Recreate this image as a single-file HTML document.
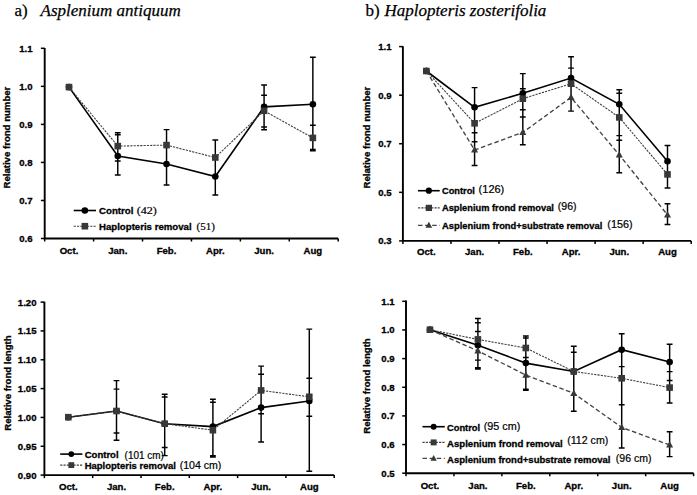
<!DOCTYPE html><html><head><meta charset="utf-8"><style>html,body{margin:0;padding:0;background:#fff;width:697px;height:495px;overflow:hidden}svg{display:block}.t{font-family:"Liberation Sans", sans-serif;font-weight:bold;font-size:9.6px;fill:#000;stroke:#000;stroke-width:0.3}.r{font-family:"Liberation Sans", sans-serif;font-size:10px;fill:#000;stroke:#000;stroke-width:0.2}.sr{font-family:"Liberation Serif",serif;font-size:10.3px;fill:#000;stroke:#000;stroke-width:0.2}.ti{font-family:"Liberation Serif",serif;font-size:17px;fill:#000;stroke:#000;stroke-width:0.25}</style></head><body>
<svg width="697" height="495" viewBox="0 0 697 495">
<text x="14.5" y="15.5" class="ti">a)</text><text x="40.6" y="15.5" class="ti" font-style="italic">Asplenium antiquum</text>
<text x="365.5" y="15.5" class="ti">b)</text><text x="384.4" y="15.5" class="ti" font-style="italic">Haplopteris zosterifolia</text>
<path d="M44.7,48 V238.5 H338.2" fill="none" stroke="#000" stroke-width="1.9"/>
<line x1="40.900000000000006" y1="48.30" x2="44.7" y2="48.30" stroke="#000" stroke-width="1.5"/>
<text x="32.6" y="51.70" text-anchor="end" class="t">1.1</text>
<line x1="40.900000000000006" y1="86.34" x2="44.7" y2="86.34" stroke="#000" stroke-width="1.5"/>
<text x="32.6" y="89.74" text-anchor="end" class="t">1.0</text>
<line x1="40.900000000000006" y1="124.38" x2="44.7" y2="124.38" stroke="#000" stroke-width="1.5"/>
<text x="32.6" y="127.78" text-anchor="end" class="t">0.9</text>
<line x1="40.900000000000006" y1="162.42" x2="44.7" y2="162.42" stroke="#000" stroke-width="1.5"/>
<text x="32.6" y="165.82" text-anchor="end" class="t">0.8</text>
<line x1="40.900000000000006" y1="200.46" x2="44.7" y2="200.46" stroke="#000" stroke-width="1.5"/>
<text x="32.6" y="203.86" text-anchor="end" class="t">0.7</text>
<line x1="40.900000000000006" y1="238.50" x2="44.7" y2="238.50" stroke="#000" stroke-width="1.5"/>
<text x="32.6" y="241.90" text-anchor="end" class="t">0.6</text>
<line x1="44.70" y1="238.5" x2="44.70" y2="241.5" stroke="#000" stroke-width="1.5"/>
<line x1="93.62" y1="238.5" x2="93.62" y2="241.5" stroke="#000" stroke-width="1.5"/>
<line x1="142.53" y1="238.5" x2="142.53" y2="241.5" stroke="#000" stroke-width="1.5"/>
<line x1="191.45" y1="238.5" x2="191.45" y2="241.5" stroke="#000" stroke-width="1.5"/>
<line x1="240.37" y1="238.5" x2="240.37" y2="241.5" stroke="#000" stroke-width="1.5"/>
<line x1="289.28" y1="238.5" x2="289.28" y2="241.5" stroke="#000" stroke-width="1.5"/>
<line x1="338.20" y1="238.5" x2="338.20" y2="241.5" stroke="#000" stroke-width="1.5"/>
<text x="69.00" y="253.8" text-anchor="middle" class="t">Oct.</text>
<text x="117.77" y="253.8" text-anchor="middle" class="t">Jan.</text>
<text x="166.54" y="253.8" text-anchor="middle" class="t">Feb.</text>
<text x="215.31" y="253.8" text-anchor="middle" class="t">Apr.</text>
<text x="264.08" y="253.8" text-anchor="middle" class="t">Jun.</text>
<text x="312.85" y="253.8" text-anchor="middle" class="t">Aug</text>
<text transform="translate(10.2,137.6) rotate(-90)" text-anchor="middle" class="t">Relative frond number</text>
<polyline points="69.00,87.10 117.77,156.00 166.54,164.00 215.31,176.50 264.08,106.90 312.85,104.30" fill="none" stroke="#000" stroke-width="1.6" />
<polyline points="69.00,87.10 117.77,146.10 166.54,145.10 215.31,157.50 264.08,110.80 312.85,137.90" fill="none" stroke="#404040" stroke-width="1.1" stroke-dasharray="2.2,1.1"/>
<path d="M117.77,132.7 V175 M114.87,132.7 h5.8 M114.87,134.8 h5.8 M114.87,160.9 h5.8 M114.87,175 h5.8" stroke="#000" stroke-width="1.45" fill="none"/>
<path d="M166.54,129.6 V184.9 M163.64,129.6 h5.8 M163.64,184.9 h5.8" stroke="#000" stroke-width="1.45" fill="none"/>
<path d="M215.31,139.9 V194.9 M212.41,139.9 h5.8 M212.41,194.9 h5.8" stroke="#000" stroke-width="1.45" fill="none"/>
<path d="M264.08,84.9 V129.8 M261.18,84.9 h5.8 M261.18,95.2 h5.8 M261.18,126.9 h5.8 M261.18,129.8 h5.8" stroke="#000" stroke-width="1.45" fill="none"/>
<path d="M312.85,57.3 V150.8 M309.95,57.3 h5.8 M309.95,125.3 h5.8 M309.95,149.4 h5.8 M309.95,150.8 h5.8" stroke="#000" stroke-width="1.45" fill="none"/>
<circle cx="69.00" cy="87.10" r="3.30" fill="#000"/>
<circle cx="117.77" cy="156.00" r="3.30" fill="#000"/>
<circle cx="166.54" cy="164.00" r="3.30" fill="#000"/>
<circle cx="215.31" cy="176.50" r="3.30" fill="#000"/>
<circle cx="264.08" cy="106.90" r="3.30" fill="#000"/>
<circle cx="312.85" cy="104.30" r="3.30" fill="#000"/>
<rect x="65.70" y="83.80" width="6.60" height="6.60" fill="#383838"/>
<rect x="114.47" y="142.80" width="6.60" height="6.60" fill="#383838"/>
<rect x="163.24" y="141.80" width="6.60" height="6.60" fill="#383838"/>
<rect x="212.01" y="154.20" width="6.60" height="6.60" fill="#383838"/>
<rect x="260.78" y="107.50" width="6.60" height="6.60" fill="#383838"/>
<rect x="309.55" y="134.60" width="6.60" height="6.60" fill="#383838"/>
<line x1="73.7" y1="210.5" x2="96" y2="210.5" stroke="#000" stroke-width="1.6" />
<circle cx="84.85" cy="210.50" r="3.30" fill="#000"/>
<text x="99" y="213.90" class="t" textLength="34.5" lengthAdjust="spacingAndGlyphs">Control</text>
<text x="136.7" y="213.7" class="sr" textLength="20.1" lengthAdjust="spacingAndGlyphs">(42)</text>
<line x1="73.7" y1="226.2" x2="96" y2="226.2" stroke="#404040" stroke-width="1.1" stroke-dasharray="2.2,1.1"/>
<rect x="81.55" y="222.90" width="6.60" height="6.60" fill="#383838"/>
<text x="99" y="229.60" class="t" textLength="92.6" lengthAdjust="spacingAndGlyphs">Haplopteris removal</text>
<text x="196.6" y="230.1" class="sr" textLength="18.4" lengthAdjust="spacingAndGlyphs">(51)</text>
<path d="M402.9,46.2 V240.9 H691.2" fill="none" stroke="#000" stroke-width="1.9"/>
<line x1="399.09999999999997" y1="46.60" x2="402.9" y2="46.60" stroke="#000" stroke-width="1.5"/>
<text x="391.6" y="50.00" text-anchor="end" class="t">1.1</text>
<line x1="399.09999999999997" y1="95.18" x2="402.9" y2="95.18" stroke="#000" stroke-width="1.5"/>
<text x="391.6" y="98.58" text-anchor="end" class="t">0.9</text>
<line x1="399.09999999999997" y1="143.75" x2="402.9" y2="143.75" stroke="#000" stroke-width="1.5"/>
<text x="391.6" y="147.15" text-anchor="end" class="t">0.7</text>
<line x1="399.09999999999997" y1="192.33" x2="402.9" y2="192.33" stroke="#000" stroke-width="1.5"/>
<text x="391.6" y="195.73" text-anchor="end" class="t">0.5</text>
<line x1="399.09999999999997" y1="240.90" x2="402.9" y2="240.90" stroke="#000" stroke-width="1.5"/>
<text x="391.6" y="244.30" text-anchor="end" class="t">0.3</text>
<line x1="402.90" y1="240.9" x2="402.90" y2="243.9" stroke="#000" stroke-width="1.5"/>
<line x1="450.95" y1="240.9" x2="450.95" y2="243.9" stroke="#000" stroke-width="1.5"/>
<line x1="499.00" y1="240.9" x2="499.00" y2="243.9" stroke="#000" stroke-width="1.5"/>
<line x1="547.05" y1="240.9" x2="547.05" y2="243.9" stroke="#000" stroke-width="1.5"/>
<line x1="595.10" y1="240.9" x2="595.10" y2="243.9" stroke="#000" stroke-width="1.5"/>
<line x1="643.15" y1="240.9" x2="643.15" y2="243.9" stroke="#000" stroke-width="1.5"/>
<line x1="691.20" y1="240.9" x2="691.20" y2="243.9" stroke="#000" stroke-width="1.5"/>
<text x="426.35" y="255.4" text-anchor="middle" class="t">Oct.</text>
<text x="474.58" y="255.4" text-anchor="middle" class="t">Jan.</text>
<text x="522.81" y="255.4" text-anchor="middle" class="t">Feb.</text>
<text x="571.04" y="255.4" text-anchor="middle" class="t">Apr.</text>
<text x="619.27" y="255.4" text-anchor="middle" class="t">Jun.</text>
<text x="667.50" y="255.4" text-anchor="middle" class="t">Aug</text>
<text transform="translate(370,137.6) rotate(-90)" text-anchor="middle" class="t">Relative frond number</text>
<polyline points="426.35,71.00 474.58,107.30 522.81,93.30 571.04,78.10 619.27,104.30 667.50,161.30" fill="none" stroke="#000" stroke-width="1.6" />
<polyline points="426.35,71.00 474.58,123.30 522.81,98.70 571.04,83.70 619.27,117.40 667.50,174.40" fill="none" stroke="#404040" stroke-width="1.1" stroke-dasharray="2.2,1.1"/>
<polyline points="426.35,71.00 474.58,150.00 522.81,132.40 571.04,97.40 619.27,154.90 667.50,214.90" fill="none" stroke="#444" stroke-width="1.35" stroke-dasharray="4.5,2.6"/>
<path d="M474.58,87.6 V165.5 M471.68,87.6 h5.8 M471.68,132.7 h5.8 M471.68,141.8 h5.8 M471.68,165.5 h5.8" stroke="#000" stroke-width="1.45" fill="none"/>
<path d="M522.81,73.6 V144.7 M519.91,73.6 h5.8 M519.91,88.7 h5.8 M519.91,109.7 h5.8 M519.91,117 h5.8 M519.91,144.7 h5.8" stroke="#000" stroke-width="1.45" fill="none"/>
<path d="M571.04,56.8 V111.1 M568.14,56.8 h5.8 M568.14,68.1 h5.8 M568.14,111.1 h5.8" stroke="#000" stroke-width="1.45" fill="none"/>
<path d="M619.27,89.7 V172.7 M616.37,89.7 h5.8 M616.37,93.2 h5.8 M616.37,135.6 h5.8 M616.37,140.3 h5.8 M616.37,172.7 h5.8" stroke="#000" stroke-width="1.45" fill="none"/>
<path d="M667.50,145.5 V188 M664.60,145.5 h5.8 M664.60,188 h5.8" stroke="#000" stroke-width="1.45" fill="none"/>
<path d="M667.50,203.8 V224.4 M664.60,203.8 h5.8 M664.60,224.4 h5.8" stroke="#000" stroke-width="1.45" fill="none"/>
<circle cx="426.35" cy="71.00" r="3.30" fill="#000"/>
<circle cx="474.58" cy="107.30" r="3.30" fill="#000"/>
<circle cx="522.81" cy="93.30" r="3.30" fill="#000"/>
<circle cx="571.04" cy="78.10" r="3.30" fill="#000"/>
<circle cx="619.27" cy="104.30" r="3.30" fill="#000"/>
<circle cx="667.50" cy="161.30" r="3.30" fill="#000"/>
<rect x="423.05" y="67.70" width="6.60" height="6.60" fill="#383838"/>
<rect x="471.28" y="120.00" width="6.60" height="6.60" fill="#383838"/>
<rect x="519.51" y="95.40" width="6.60" height="6.60" fill="#383838"/>
<rect x="567.74" y="80.40" width="6.60" height="6.60" fill="#383838"/>
<rect x="615.97" y="114.10" width="6.60" height="6.60" fill="#383838"/>
<rect x="664.20" y="171.10" width="6.60" height="6.60" fill="#383838"/>
<path d="M426.35,67.10 L429.85,73.60 L422.85,73.60 Z" fill="#383838"/>
<path d="M474.58,146.10 L478.08,152.60 L471.08,152.60 Z" fill="#383838"/>
<path d="M522.81,128.50 L526.31,135.00 L519.31,135.00 Z" fill="#383838"/>
<path d="M571.04,93.50 L574.54,100.00 L567.54,100.00 Z" fill="#383838"/>
<path d="M619.27,151.00 L622.77,157.50 L615.77,157.50 Z" fill="#383838"/>
<path d="M667.50,211.00 L671.00,217.50 L664.00,217.50 Z" fill="#383838"/>
<line x1="418" y1="190.7" x2="439.7" y2="190.7" stroke="#000" stroke-width="1.6" />
<circle cx="428.85" cy="190.70" r="3.13" fill="#000"/>
<text x="442" y="194.10" class="t" textLength="32.9" lengthAdjust="spacingAndGlyphs">Control</text>
<text x="478.6" y="192.5" class="r" textLength="25.7" lengthAdjust="spacingAndGlyphs">(126)</text>
<line x1="418" y1="207.9" x2="439.7" y2="207.9" stroke="#404040" stroke-width="1.1" stroke-dasharray="2.2,1.1"/>
<rect x="425.72" y="204.77" width="6.27" height="6.27" fill="#383838"/>
<text x="442" y="211.30" class="t" textLength="111.9" lengthAdjust="spacingAndGlyphs">Asplenium frond removal</text>
<text x="557.8" y="209.8" class="r" textLength="18.8" lengthAdjust="spacingAndGlyphs">(96)</text>
<line x1="418" y1="225.4" x2="439.7" y2="225.4" stroke="#444" stroke-width="1.35" stroke-dasharray="4.5,2.6"/>
<path d="M428.85,221.69 L432.18,227.87 L425.53,227.87 Z" fill="#383838"/>
<text x="442" y="228.80" class="t" textLength="160.3" lengthAdjust="spacingAndGlyphs">Asplenium frond+substrate removal</text>
<text x="607.3" y="228.1" class="r" textLength="25.2" lengthAdjust="spacingAndGlyphs">(156)</text>
<path d="M44.4,301.8 V475.1 H334.2" fill="none" stroke="#000" stroke-width="1.9"/>
<line x1="40.6" y1="302.10" x2="44.4" y2="302.10" stroke="#000" stroke-width="1.5"/>
<text x="36.5" y="305.50" text-anchor="end" class="t">1.20</text>
<line x1="40.6" y1="330.93" x2="44.4" y2="330.93" stroke="#000" stroke-width="1.5"/>
<text x="36.5" y="334.33" text-anchor="end" class="t">1.15</text>
<line x1="40.6" y1="359.77" x2="44.4" y2="359.77" stroke="#000" stroke-width="1.5"/>
<text x="36.5" y="363.17" text-anchor="end" class="t">1.10</text>
<line x1="40.6" y1="388.60" x2="44.4" y2="388.60" stroke="#000" stroke-width="1.5"/>
<text x="36.5" y="392.00" text-anchor="end" class="t">1.05</text>
<line x1="40.6" y1="417.43" x2="44.4" y2="417.43" stroke="#000" stroke-width="1.5"/>
<text x="36.5" y="420.83" text-anchor="end" class="t">1.00</text>
<line x1="40.6" y1="446.27" x2="44.4" y2="446.27" stroke="#000" stroke-width="1.5"/>
<text x="36.5" y="449.67" text-anchor="end" class="t">0.95</text>
<line x1="40.6" y1="475.10" x2="44.4" y2="475.10" stroke="#000" stroke-width="1.5"/>
<text x="36.5" y="478.50" text-anchor="end" class="t">0.90</text>
<line x1="44.40" y1="475.1" x2="44.40" y2="478.1" stroke="#000" stroke-width="1.5"/>
<line x1="92.70" y1="475.1" x2="92.70" y2="478.1" stroke="#000" stroke-width="1.5"/>
<line x1="141.00" y1="475.1" x2="141.00" y2="478.1" stroke="#000" stroke-width="1.5"/>
<line x1="189.30" y1="475.1" x2="189.30" y2="478.1" stroke="#000" stroke-width="1.5"/>
<line x1="237.60" y1="475.1" x2="237.60" y2="478.1" stroke="#000" stroke-width="1.5"/>
<line x1="285.90" y1="475.1" x2="285.90" y2="478.1" stroke="#000" stroke-width="1.5"/>
<line x1="334.20" y1="475.1" x2="334.20" y2="478.1" stroke="#000" stroke-width="1.5"/>
<text x="68.30" y="489.8" text-anchor="middle" class="t">Oct.</text>
<text x="116.50" y="489.8" text-anchor="middle" class="t">Jan.</text>
<text x="164.70" y="489.8" text-anchor="middle" class="t">Feb.</text>
<text x="212.90" y="489.8" text-anchor="middle" class="t">Apr.</text>
<text x="261.10" y="489.8" text-anchor="middle" class="t">Jun.</text>
<text x="309.30" y="489.8" text-anchor="middle" class="t">Aug</text>
<text transform="translate(11,383.1) rotate(-90)" text-anchor="middle" class="t">Relative frond length</text>
<polyline points="68.30,417.20 116.50,411.00 164.70,423.70 212.90,426.60 261.10,407.60 309.30,401.00" fill="none" stroke="#000" stroke-width="1.6" />
<polyline points="68.30,417.20 116.50,411.00 164.70,423.70 212.90,430.20 261.10,390.40 309.30,396.80" fill="none" stroke="#404040" stroke-width="1.1" stroke-dasharray="2.2,1.1"/>
<path d="M116.50,380.6 V440.2 M113.60,380.6 h5.8 M113.60,389.1 h5.8 M113.60,432.9 h5.8 M113.60,440.2 h5.8" stroke="#000" stroke-width="1.45" fill="none"/>
<path d="M164.70,394.2 V455.6 M161.80,394.2 h5.8 M161.80,397 h5.8 M161.80,447.4 h5.8 M161.80,455.6 h5.8" stroke="#000" stroke-width="1.45" fill="none"/>
<path d="M212.90,399.2 V457 M210.00,399.2 h5.8 M210.00,402.3 h5.8 M210.00,455.7 h5.8 M210.00,457 h5.8" stroke="#000" stroke-width="1.45" fill="none"/>
<path d="M261.10,366.1 V442 M258.20,366.1 h5.8 M258.20,374.2 h5.8 M258.20,413.7 h5.8 M258.20,442 h5.8" stroke="#000" stroke-width="1.45" fill="none"/>
<path d="M309.30,329.1 V471.3 M306.40,329.1 h5.8 M306.40,378.3 h5.8 M306.40,416.2 h5.8 M306.40,471.3 h5.8" stroke="#000" stroke-width="1.45" fill="none"/>
<circle cx="68.30" cy="417.20" r="3.30" fill="#000"/>
<circle cx="116.50" cy="411.00" r="3.30" fill="#000"/>
<circle cx="164.70" cy="423.70" r="3.30" fill="#000"/>
<circle cx="212.90" cy="426.60" r="3.30" fill="#000"/>
<circle cx="261.10" cy="407.60" r="3.30" fill="#000"/>
<circle cx="309.30" cy="401.00" r="3.30" fill="#000"/>
<rect x="65.00" y="413.90" width="6.60" height="6.60" fill="#383838"/>
<rect x="113.20" y="407.70" width="6.60" height="6.60" fill="#383838"/>
<rect x="161.40" y="420.40" width="6.60" height="6.60" fill="#383838"/>
<rect x="209.60" y="426.90" width="6.60" height="6.60" fill="#383838"/>
<rect x="257.80" y="387.10" width="6.60" height="6.60" fill="#383838"/>
<rect x="306.00" y="393.50" width="6.60" height="6.60" fill="#383838"/>
<line x1="60.2" y1="454.1" x2="82.4" y2="454.1" stroke="#000" stroke-width="1.6" />
<circle cx="71.30" cy="454.10" r="2.90" fill="#000"/>
<text x="84.7" y="457.70" class="t" textLength="33.9" lengthAdjust="spacingAndGlyphs">Control</text>
<text x="124.6" y="458.5" class="r" textLength="39.1" lengthAdjust="spacingAndGlyphs">(101 cm)</text>
<line x1="60.2" y1="465.1" x2="82.4" y2="465.1" stroke="#404040" stroke-width="1.1" stroke-dasharray="2.2,1.1"/>
<rect x="68.40" y="462.20" width="5.81" height="5.81" fill="#383838"/>
<text x="84.7" y="468.70" class="t" textLength="91.2" lengthAdjust="spacingAndGlyphs">Haplopteris removal</text>
<text x="179.7" y="469.2" class="r" textLength="41.7" lengthAdjust="spacingAndGlyphs">(104 cm)</text>
<path d="M406,300.5 V473.2 H693.6" fill="none" stroke="#000" stroke-width="1.9"/>
<line x1="402.2" y1="301.30" x2="406" y2="301.30" stroke="#000" stroke-width="1.5"/>
<text x="394.7" y="304.70" text-anchor="end" class="t">1.1</text>
<line x1="402.2" y1="329.95" x2="406" y2="329.95" stroke="#000" stroke-width="1.5"/>
<text x="394.7" y="333.35" text-anchor="end" class="t">1.0</text>
<line x1="402.2" y1="358.60" x2="406" y2="358.60" stroke="#000" stroke-width="1.5"/>
<text x="394.7" y="362.00" text-anchor="end" class="t">0.9</text>
<line x1="402.2" y1="387.25" x2="406" y2="387.25" stroke="#000" stroke-width="1.5"/>
<text x="394.7" y="390.65" text-anchor="end" class="t">0.8</text>
<line x1="402.2" y1="415.90" x2="406" y2="415.90" stroke="#000" stroke-width="1.5"/>
<text x="394.7" y="419.30" text-anchor="end" class="t">0.7</text>
<line x1="402.2" y1="444.55" x2="406" y2="444.55" stroke="#000" stroke-width="1.5"/>
<text x="394.7" y="447.95" text-anchor="end" class="t">0.6</text>
<line x1="402.2" y1="473.20" x2="406" y2="473.20" stroke="#000" stroke-width="1.5"/>
<text x="394.7" y="476.60" text-anchor="end" class="t">0.5</text>
<line x1="406.00" y1="473.2" x2="406.00" y2="476.2" stroke="#000" stroke-width="1.5"/>
<line x1="453.93" y1="473.2" x2="453.93" y2="476.2" stroke="#000" stroke-width="1.5"/>
<line x1="501.87" y1="473.2" x2="501.87" y2="476.2" stroke="#000" stroke-width="1.5"/>
<line x1="549.80" y1="473.2" x2="549.80" y2="476.2" stroke="#000" stroke-width="1.5"/>
<line x1="597.73" y1="473.2" x2="597.73" y2="476.2" stroke="#000" stroke-width="1.5"/>
<line x1="645.67" y1="473.2" x2="645.67" y2="476.2" stroke="#000" stroke-width="1.5"/>
<line x1="693.60" y1="473.2" x2="693.60" y2="476.2" stroke="#000" stroke-width="1.5"/>
<text x="429.97" y="488.6" text-anchor="middle" class="t">Oct.</text>
<text x="477.90" y="488.6" text-anchor="middle" class="t">Jan.</text>
<text x="525.83" y="488.6" text-anchor="middle" class="t">Feb.</text>
<text x="573.77" y="488.6" text-anchor="middle" class="t">Apr.</text>
<text x="621.70" y="488.6" text-anchor="middle" class="t">Jun.</text>
<text x="669.63" y="488.6" text-anchor="middle" class="t">Aug</text>
<text transform="translate(370.2,386) rotate(-90)" text-anchor="middle" class="t">Relative frond length</text>
<polyline points="429.97,329.70 477.90,345.30 525.83,363.10 573.77,371.50 621.70,349.70 669.63,362.10" fill="none" stroke="#000" stroke-width="1.6" />
<polyline points="429.97,329.70 477.90,339.40 525.83,348.00 573.77,371.50 621.70,378.30 669.63,387.60" fill="none" stroke="#404040" stroke-width="1.1" stroke-dasharray="2.2,1.1"/>
<polyline points="429.97,329.70 477.90,350.90 525.83,375.10 573.77,393.30 621.70,427.40 669.63,445.00" fill="none" stroke="#444" stroke-width="1.35" stroke-dasharray="4.5,2.6"/>
<path d="M477.90,318.5 V369 M475.00,318.5 h5.8 M475.00,322.7 h5.8 M475.00,331.5 h5.8 M475.00,360.1 h5.8 M475.00,367.6 h5.8 M475.00,369 h5.8" stroke="#000" stroke-width="1.45" fill="none"/>
<path d="M525.83,336 V390.2 M522.93,336 h5.8 M522.93,338 h5.8 M522.93,357.5 h5.8 M522.93,389.2 h5.8 M522.93,390.2 h5.8" stroke="#000" stroke-width="1.45" fill="none"/>
<path d="M573.77,346.3 V411.2 M570.87,346.3 h5.8 M570.87,352.3 h5.8 M570.87,411.2 h5.8" stroke="#000" stroke-width="1.45" fill="none"/>
<path d="M621.70,333.7 V447.9 M618.80,333.7 h5.8 M618.80,366.6 h5.8 M618.80,404.8 h5.8 M618.80,447.9 h5.8" stroke="#000" stroke-width="1.45" fill="none"/>
<path d="M669.63,344.2 V402.9 M666.73,344.2 h5.8 M666.73,371.6 h5.8 M666.73,380.4 h5.8 M666.73,402.9 h5.8" stroke="#000" stroke-width="1.45" fill="none"/>
<path d="M669.63,431.8 V456.6 M666.73,431.8 h5.8 M666.73,456.6 h5.8" stroke="#000" stroke-width="1.45" fill="none"/>
<circle cx="429.97" cy="329.70" r="3.30" fill="#000"/>
<circle cx="477.90" cy="345.30" r="3.30" fill="#000"/>
<circle cx="525.83" cy="363.10" r="3.30" fill="#000"/>
<circle cx="573.77" cy="371.50" r="3.30" fill="#000"/>
<circle cx="621.70" cy="349.70" r="3.30" fill="#000"/>
<circle cx="669.63" cy="362.10" r="3.30" fill="#000"/>
<rect x="426.67" y="326.40" width="6.60" height="6.60" fill="#383838"/>
<rect x="474.60" y="336.10" width="6.60" height="6.60" fill="#383838"/>
<rect x="522.53" y="344.70" width="6.60" height="6.60" fill="#383838"/>
<rect x="570.47" y="368.20" width="6.60" height="6.60" fill="#383838"/>
<rect x="618.40" y="375.00" width="6.60" height="6.60" fill="#383838"/>
<rect x="666.33" y="384.30" width="6.60" height="6.60" fill="#383838"/>
<path d="M429.97,325.80 L433.47,332.30 L426.47,332.30 Z" fill="#383838"/>
<path d="M477.90,347.00 L481.40,353.50 L474.40,353.50 Z" fill="#383838"/>
<path d="M525.83,371.20 L529.33,377.70 L522.33,377.70 Z" fill="#383838"/>
<path d="M573.77,389.40 L577.27,395.90 L570.27,395.90 Z" fill="#383838"/>
<path d="M621.70,423.50 L625.20,430.00 L618.20,430.00 Z" fill="#383838"/>
<path d="M669.63,441.10 L673.13,447.60 L666.13,447.60 Z" fill="#383838"/>
<line x1="422.5" y1="426.7" x2="444.8" y2="426.7" stroke="#000" stroke-width="1.6" />
<circle cx="433.65" cy="426.70" r="2.97" fill="#000"/>
<text x="447" y="430.80" class="t" textLength="33.1" lengthAdjust="spacingAndGlyphs">Control</text>
<text x="483.7" y="429.5" class="r" textLength="36.7" lengthAdjust="spacingAndGlyphs">(95 cm)</text>
<line x1="422.5" y1="442.4" x2="444.8" y2="442.4" stroke="#404040" stroke-width="1.1" stroke-dasharray="2.2,1.1"/>
<rect x="430.68" y="439.43" width="5.94" height="5.94" fill="#383838"/>
<text x="447" y="446.50" class="t" textLength="115.8" lengthAdjust="spacingAndGlyphs">Asplenium frond removal</text>
<text x="567.2" y="443.8" class="r" textLength="41.1" lengthAdjust="spacingAndGlyphs">(112 cm)</text>
<line x1="422.5" y1="458.4" x2="444.8" y2="458.4" stroke="#444" stroke-width="1.35" stroke-dasharray="4.5,2.6"/>
<path d="M433.65,454.89 L436.80,460.74 L430.50,460.74 Z" fill="#383838"/>
<text x="447" y="462.50" class="t" textLength="163.5" lengthAdjust="spacingAndGlyphs">Asplenium frond+substrate removal</text>
<text x="615.8" y="462.3" class="r" textLength="35.6" lengthAdjust="spacingAndGlyphs">(96 cm)</text>
</svg></body></html>
